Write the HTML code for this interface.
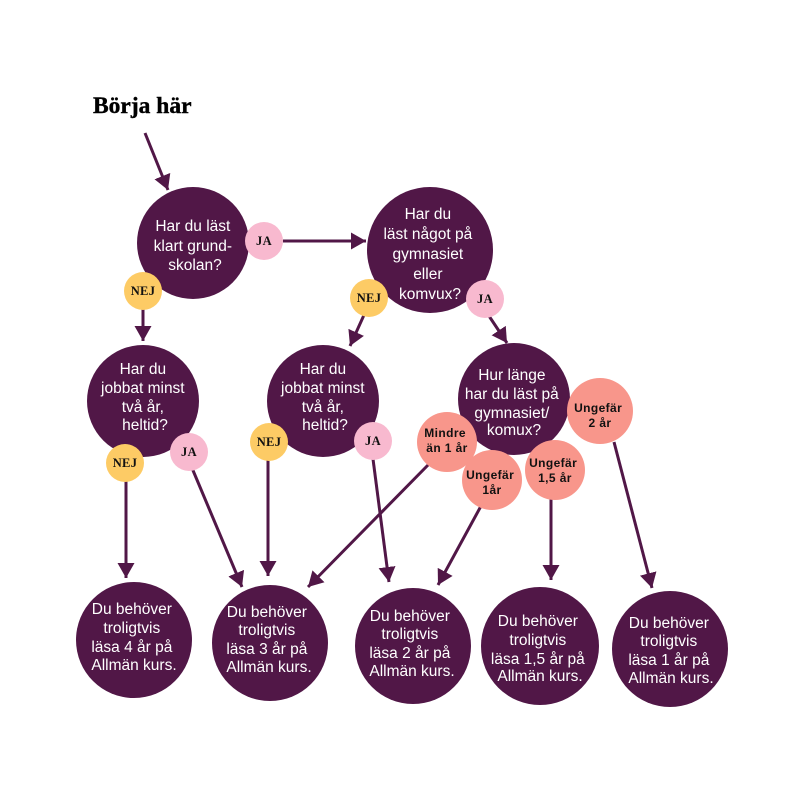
<!DOCTYPE html>
<html>
<head>
<meta charset="utf-8">
<style>
  html, body { margin: 0; padding: 0; background: #ffffff; }
  svg { display: block; }
  .q { font-family: "Liberation Sans", "DejaVu Sans", sans-serif; font-size: 15.5px; fill: #ffffff; text-anchor: middle; }
  .b { font-family: "Liberation Serif", serif; font-weight: bold; font-size: 12.5px; fill: #111111; text-anchor: middle; letter-spacing: 0.3px; }
  .s { font-family: "Liberation Sans", sans-serif; font-weight: bold; font-size: 12px; fill: #111111; text-anchor: middle; letter-spacing: 0.4px; }
  .title { font-family: "Liberation Serif", serif; font-weight: bold; font-size: 23.5px; fill: #000000; }
  .ln { stroke: #511747; stroke-width: 3; fill: none; marker-end: url(#ah); }
</style>
</head>
<body>
<svg width="794" height="794" viewBox="0 0 794 794" xmlns="http://www.w3.org/2000/svg">
  <defs>
    <marker id="ah" markerUnits="userSpaceOnUse" markerWidth="16" markerHeight="17" refX="15" refY="8.5" orient="auto">
      <path d="M0,0 L15,8.5 L0,17 z" fill="#511747"/>
    </marker>
  </defs>
  <rect width="794" height="794" fill="#ffffff"/>

  <!-- Title -->
  <text class="title" x="93" y="113" stroke="#000" stroke-width="0.4">Börja här</text>

  <!-- Connectors -->
  <line class="ln" x1="145" y1="133" x2="168" y2="190"/>
  <line class="ln" x1="283" y1="241" x2="366" y2="241"/>
  <line class="ln" x1="143" y1="308" x2="143" y2="341"/>
  <line class="ln" x1="364" y1="315" x2="350" y2="346"/>
  <line class="ln" x1="489" y1="316" x2="507" y2="343"/>
  <line class="ln" x1="126" y1="480" x2="126" y2="578"/>
  <line class="ln" x1="192" y1="468" x2="242" y2="587"/>
  <line class="ln" x1="268" y1="459" x2="268" y2="576"/>
  <line class="ln" x1="430" y1="463" x2="308" y2="587"/>
  <line class="ln" x1="373" y1="459" x2="389" y2="582"/>
  <line class="ln" x1="481" y1="506" x2="438" y2="585"/>
  <line class="ln" x1="551" y1="497" x2="551" y2="580"/>
  <line class="ln" x1="614" y1="442" x2="652" y2="588"/>

  <!-- Question circles -->
  <circle cx="193" cy="243" r="56" fill="#511747"/>
  <circle cx="430" cy="250" r="63" fill="#511747"/>
  <circle cx="143" cy="401" r="56" fill="#511747"/>
  <circle cx="323" cy="401" r="56" fill="#511747"/>
  <circle cx="514" cy="399" r="56" fill="#511747"/>

  <!-- Result circles -->
  <circle cx="134" cy="640" r="58" fill="#511747"/>
  <circle cx="270" cy="643" r="58" fill="#511747"/>
  <circle cx="413" cy="646" r="58" fill="#511747"/>
  <circle cx="540" cy="646" r="59" fill="#511747"/>
  <circle cx="670" cy="649" r="58" fill="#511747"/>

  <!-- Badges -->
  <circle cx="264" cy="241" r="19" fill="#F8B9CF"/>
  <circle cx="143" cy="291" r="19" fill="#FDCB65"/>
  <circle cx="369" cy="298" r="19" fill="#FDCB65"/>
  <circle cx="485" cy="299" r="19" fill="#F8B9CF"/>
  <circle cx="125" cy="463" r="19" fill="#FDCB65"/>
  <circle cx="189" cy="452" r="19" fill="#F8B9CF"/>
  <circle cx="269" cy="442" r="19" fill="#FDCB65"/>
  <circle cx="373" cy="441" r="19" fill="#F8B9CF"/>

  <circle cx="447" cy="442" r="30" fill="#F8968B"/>
  <circle cx="492" cy="480" r="30" fill="#F8968B"/>
  <circle cx="555" cy="470" r="30" fill="#F8968B"/>
  <circle cx="600" cy="411" r="33" fill="#F8968B"/>

  <!-- Question texts -->
  <text class="q">
    <tspan x="195" y="231">Har du läst</tspan>
    <tspan x="195" y="251">klart grund-</tspan>
    <tspan x="195" y="270">skolan?</tspan>
  </text>
  <text class="q">
    <tspan x="430" y="219">Har du</tspan>
    <tspan x="430" y="239">läst något på</tspan>
    <tspan x="430" y="259">gymnasiet</tspan>
    <tspan x="430" y="279">eller</tspan>
    <tspan x="430" y="299">komvux?</tspan>
  </text>
  <text class="q">
    <tspan x="145" y="374">Har du</tspan>
    <tspan x="145" y="393">jobbat minst</tspan>
    <tspan x="145" y="412">två år,</tspan>
    <tspan x="145" y="430">heltid?</tspan>
  </text>
  <text class="q">
    <tspan x="325" y="374">Har du</tspan>
    <tspan x="325" y="393">jobbat minst</tspan>
    <tspan x="325" y="412">två år,</tspan>
    <tspan x="325" y="430">heltid?</tspan>
  </text>
  <text class="q">
    <tspan x="514" y="380">Hur länge</tspan>
    <tspan x="514" y="399">har du läst på</tspan>
    <tspan x="514" y="418">gymnasiet/</tspan>
    <tspan x="514" y="435">komux?</tspan>
  </text>

  <!-- Result texts -->
  <text class="q">
    <tspan x="134" y="614">Du behöver</tspan>
    <tspan x="134" y="633">troligtvis</tspan>
    <tspan x="134" y="652">läsa 4 år på</tspan>
    <tspan x="134" y="670">Allmän kurs.</tspan>
  </text>
  <text class="q">
    <tspan x="269" y="617">Du behöver</tspan>
    <tspan x="269" y="635">troligtvis</tspan>
    <tspan x="269" y="654">läsa 3 år på</tspan>
    <tspan x="269" y="672">Allmän kurs.</tspan>
  </text>
  <text class="q">
    <tspan x="412" y="621">Du behöver</tspan>
    <tspan x="412" y="639">troligtvis</tspan>
    <tspan x="412" y="658">läsa 2 år på</tspan>
    <tspan x="412" y="676">Allmän kurs.</tspan>
  </text>
  <text class="q">
    <tspan x="540" y="626">Du behöver</tspan>
    <tspan x="540" y="645">troligtvis</tspan>
    <tspan x="540" y="664">läsa 1,5 år på</tspan>
    <tspan x="540" y="681">Allmän kurs.</tspan>
  </text>
  <text class="q">
    <tspan x="671" y="628">Du behöver</tspan>
    <tspan x="671" y="646">troligtvis</tspan>
    <tspan x="671" y="665">läsa 1 år på</tspan>
    <tspan x="671" y="683">Allmän kurs.</tspan>
  </text>

  <!-- Badge texts -->
  <text class="b" x="264" y="245">JA</text>
  <text class="b" x="143" y="295">NEJ</text>
  <text class="b" x="369" y="302">NEJ</text>
  <text class="b" x="485" y="303">JA</text>
  <text class="b" x="125" y="467">NEJ</text>
  <text class="b" x="189" y="456">JA</text>
  <text class="b" x="269" y="446">NEJ</text>
  <text class="b" x="373" y="445">JA</text>

  <text class="s">
    <tspan x="447" y="437">Mindre</tspan>
    <tspan x="447" y="452">än 1 år</tspan>
  </text>
  <text class="s">
    <tspan x="492" y="479">Ungefär</tspan>
    <tspan x="492" y="494">1år</tspan>
  </text>
  <text class="s">
    <tspan x="555" y="467">Ungefär</tspan>
    <tspan x="555" y="482">1,5 år</tspan>
  </text>
  <text class="s">
    <tspan x="600" y="412">Ungefär</tspan>
    <tspan x="600" y="427">2 år</tspan>
  </text>
</svg>
</body>
</html>
